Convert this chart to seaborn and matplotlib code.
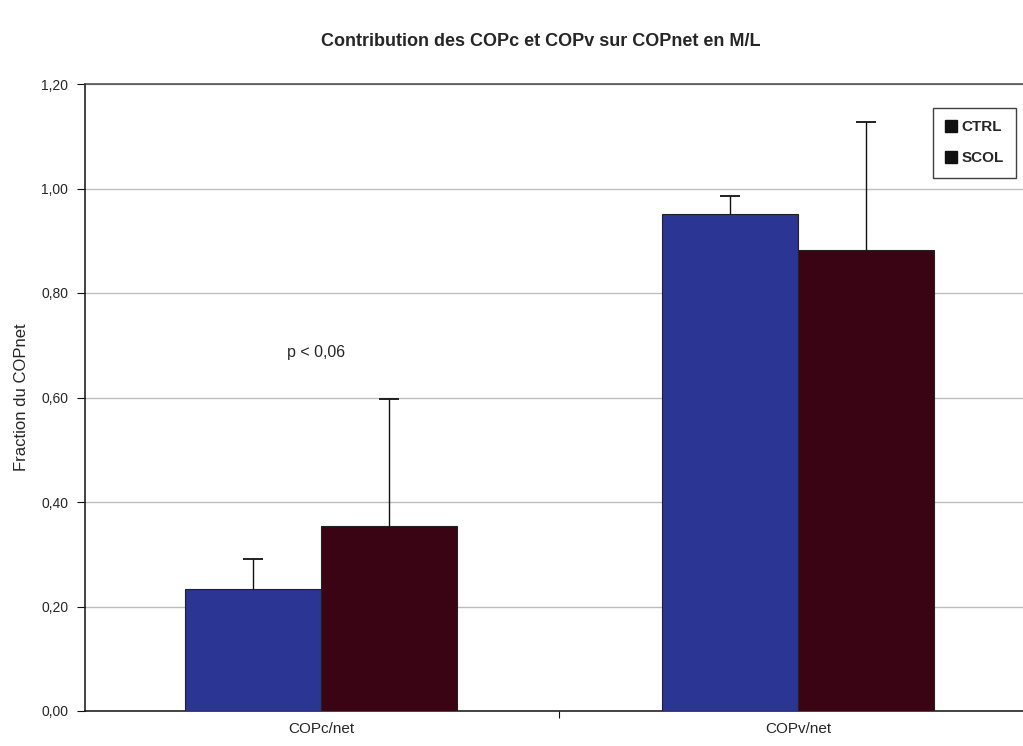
import matplotlib
matplotlib.use("Agg")
import matplotlib.pyplot as plt
import seaborn as sns
import pandas as pd
import numpy as np
from matplotlib.patches import Patch
from matplotlib.ticker import FixedLocator, FuncFormatter

categories = ["COPc/net", "COPv/net"]
groups = ["CTRL", "SCOL"]
ctrl_mean = [0.233, 0.951]
scol_mean = [0.354, 0.882]
ctrl_err = [0.058, 0.035]
scol_err = [0.243, 0.245]
yticks = [0.0, 0.2, 0.4, 0.6, 0.8, 1.0, 1.2]

colors = {"CTRL": "#2b3593", "SCOL": "#3a0414"}

df = pd.DataFrame({
    "cat": categories * 2,
    "group": ["CTRL"] * 2 + ["SCOL"] * 2,
    "val": ctrl_mean + scol_mean,
    "err": ctrl_err + scol_err,
})

sns.set_style("white")
plt.rcParams["font.family"] = ["Liberation Sans", "DejaVu Sans"]

fig = plt.figure(figsize=(10.23, 7.46), dpi=100)
ax = fig.add_axes([85 / 1023, 35 / 746, 1 - 85 / 1023, (711 - 84) / 746])

sns.barplot(data=df, x="cat", y="val", hue="group", order=categories,
            hue_order=groups, palette=colors, width=0.57, errorbar=None,
            edgecolor="#222222", linewidth=0.8, saturation=1, ax=ax, zorder=3)

# upper error bars only
for container, g in zip(ax.containers, groups):
    sub = df[df.group == g].set_index("cat").loc[categories]
    for bar, v, e in zip(container, sub["val"], sub["err"]):
        xc = bar.get_x() + bar.get_width() / 2
        _, caps, _ = ax.errorbar([xc], [v], yerr=[[0], [e]], fmt="none", ecolor="#111111",
                                 elinewidth=1.0, capsize=7, capthick=1.3, zorder=4)
        if len(caps) > 1:
            caps[0].set_visible(False)

ax.set_xlim(-0.495, 1.472)
ax.set_ylim(0, 1.2)
ax.yaxis.set_major_locator(FixedLocator(yticks))
ax.yaxis.set_major_formatter(FuncFormatter(lambda v, p: f"{v:.2f}".replace(".", ",")))
ax.grid(axis="y", color="#bdbdbd", linewidth=1.0, zorder=0)
ax.set_axisbelow(True)

for s in ["left", "bottom", "top"]:
    ax.spines[s].set_visible(True)
    ax.spines[s].set_color("#111111")
    ax.spines[s].set_linewidth(1.1)
ax.spines["top"].set_color("#444444")
ax.spines["right"].set_visible(False)

ax.tick_params(axis="y", which="major", direction="out", length=6, width=0.8,
               color="#111111", labelsize=10, pad=6, left=True)
ax.tick_params(axis="x", which="major", length=0, labelsize=11, pad=8)
ax.set_xticks([0.5], minor=True)
ax.tick_params(axis="x", which="minor", direction="out", length=5, width=0.8,
               color="#111111", bottom=True)

ax.set_xlabel("")
ax.set_ylabel("Fraction du COPnet", fontsize=12, labelpad=9)

ax.text(-0.01, 0.687, "p < 0,06", ha="center", va="center", fontsize=11.5)

fig.text(541 / 1023, 1 - 42 / 746, "Contribution des COPc et COPv sur COPnet en M/L",
         ha="center", va="center", fontsize=13, fontweight="bold")

handles = [Patch(facecolor="#111111", edgecolor="#111111", label=g) for g in groups]
leg = ax.legend(handles=handles, loc="upper right", frameon=True, fancybox=False,
                edgecolor="#111111", handlelength=0.8, handleheight=0.8,
                handletextpad=0.3, labelspacing=1.1, borderpad=0.8, borderaxespad=0,
                prop={"weight": "bold", "size": 11})
leg.get_frame().set_linewidth(1.0)
leg.set_bbox_to_anchor((1016 / 1023, 1 - 108 / 746), transform=fig.transFigure)

fig.savefig("out.png", dpi=100)
